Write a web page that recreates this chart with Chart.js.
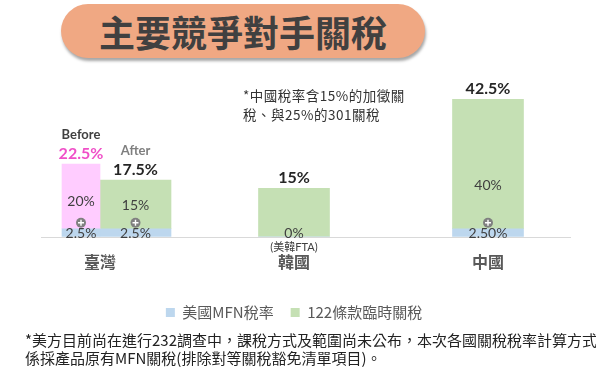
<!DOCTYPE html>
<html>
<head>
<meta charset="utf-8">
<script src="https://cdn.jsdelivr.net/npm/chart.js@4.4.1/dist/chart.umd.min.js"></script>
<style>
  body { margin: 0; width: 596px; height: 378px; background: #fff; position: relative; overflow: hidden;
         font-family: 'Noto Sans CJK TC', sans-serif; }
  #title { position: absolute; left: 61px; top: 4px; width: 364px; height: 54px; border-radius: 27px;
           background: #F0A883; box-shadow: 1px 3px 3px rgba(0,0,0,.35); color: #404040;
           font-size: 36px; font-weight: 700; text-align: center; line-height: 54px; }
  #wrap { position: absolute; left: 0; top: 60px; width: 596px; height: 270px; }
  #note { position: absolute; left: 243px; top: 86px; font-size: 13.5px; line-height: 19px;
          color: #333; letter-spacing: 0.5px; white-space: nowrap; }
  #foot { position: absolute; left: 25px; top: 331px; font-size: 15px; line-height: 18px;
          color: #222; white-space: nowrap; }
</style>
</head>
<body>
<div id="title">主要競爭對手關稅</div>
<div id="wrap"><canvas id="chart"></canvas></div>
<div id="note">*中國稅率含15%的加徵關<br>稅、與25%的301關稅</div>
<div id="foot">*美方目前尚在進行232調查中，課稅方式及範圍尚未公布，本次各國關稅稅率計算方式<br>係採產品原有MFN關稅(排除對等關稅豁免清單項目)。</div>
<script>
const categories = ['臺灣', '韓國', '中國'];
const seriesNames = ['美國MFN稅率', '122條款臨時關稅'];

// Taiwan before the change (MFN + 232 tariff)
const beforeMfn = [2.5, null, null];
const before232 = [20, null, null];
// current rates
const mfnRate = [2.5, 0, 2.5];
const tempTariff = [15, 15, 40];

const mfnLabels = ['2.5%', '0%', '2.50%'];
const mfnNotes = ['', '(美韓FTA)', ''];
const beforeHeader = ['Before', '', ''];
const afterHeader = ['After', '', ''];

const blue = '#BDD7EE';
const green = '#C5E0B4';
const pink = '#FFCCFF';
const numFont = "Lato, 'Noto Sans CJK TC', sans-serif";

// value labels, headers and the "+" marks
const barText = {
  id: 'barText',
  beforeDatasetsDraw(chart) {
    const ctx = chart.ctx;
    const a = chart.chartArea;
    const y = Math.round(chart.scales.y.getPixelForValue(0)) + 0.5;
    ctx.save();
    ctx.strokeStyle = '#D9D9D9';
    ctx.lineWidth = 1;
    ctx.beginPath();
    ctx.moveTo(a.left + 38, y);
    ctx.lineTo(a.right - 14, y);
    ctx.stroke();
    ctx.restore();
  },
  afterDatasetsDraw(chart) {
    const ctx = chart.ctx;
    const y0 = chart.scales.y.getPixelForValue(0);
    const pairs = [
      { low: 0, high: 1, head: beforeHeader, headColor: '#404040', totalColor: '#F050C8' },
      { low: 2, high: 3, head: afterHeader, headColor: '#7F7F7F', totalColor: '#262626' }
    ];
    ctx.save();
    ctx.textAlign = 'center';
    ctx.textBaseline = 'middle';
    pairs.forEach(p => {
      const lowSet = chart.data.datasets[p.low];
      const highSet = chart.data.datasets[p.high];
      const lowBars = chart.getDatasetMeta(p.low).data;
      const highBars = chart.getDatasetMeta(p.high).data;
      categories.forEach((c, i) => {
        if (highSet.data[i] == null) return;
        const lo = lowBars[i], hi = highBars[i];
        const x = hi.x;
        const total = lowSet.data[i] + highSet.data[i];
        // total on top
        ctx.fillStyle = p.totalColor;
        ctx.font = 'bold 16px ' + numFont;
        ctx.fillText(total + '%', x, hi.y - 10);
        if (p.head[i]) {
          ctx.fillStyle = p.headColor;
          ctx.font = 'bold 13px ' + numFont;
          ctx.fillText(p.head[i], x, hi.y - 29);
        }
        // bottom (MFN) label
        ctx.fillStyle = '#404040';
        ctx.font = '14px ' + numFont;
        ctx.fillText(mfnLabels[i], x, y0 - 3);
        if (mfnNotes[i]) {
          ctx.font = '11px ' + numFont;
          ctx.fillText(mfnNotes[i], x, y0 + 11);
        }
        if (lowSet.data[i] > 0) {
          const mid = (hi.y + lo.y) / 2;
          ctx.font = '14px ' + numFont;
          ctx.fillText(highSet.data[i] + '%', x, (mid + lo.y - 22) / 2);
          // plus sign
          const cy = lo.y - 6;
          ctx.fillStyle = '#808080';
          ctx.beginPath();
          ctx.arc(x, cy, 5, 0, Math.PI * 2);
          ctx.fill();
          ctx.strokeStyle = '#fff';
          ctx.lineWidth = 1.4;
          ctx.beginPath();
          ctx.moveTo(x - 3, cy); ctx.lineTo(x + 3, cy);
          ctx.moveTo(x, cy - 3); ctx.lineTo(x, cy + 3);
          ctx.stroke();
          ctx.fillStyle = '#404040';
        }
      });
    });
    ctx.restore();
  }
};

new Chart(document.getElementById('chart'), {
  type: 'bar',
  data: {
    labels: categories,
    datasets: [
      { label: seriesNames[0], data: beforeMfn, stack: 'before', backgroundColor: blue, barThickness: 38 },
      { label: 'Before', data: before232, stack: 'before', backgroundColor: pink, barThickness: 38 },
      { label: seriesNames[0], data: mfnRate, stack: 'now', backgroundColor: blue, barThickness: 71 },
      { label: seriesNames[1], data: tempTariff, stack: 'now', backgroundColor: green, barThickness: 71 }
    ]
  },
  options: {
    responsive: true,
    maintainAspectRatio: false,
    animation: false,
    datasets: { bar: { skipNull: true, borderWidth: 0 } },
    layout: { padding: { left: 3, right: 11, top: 28, bottom: 0 } },
    plugins: {
      tooltip: { enabled: false },
      legend: {
        position: 'bottom',
        labels: {
          filter: item => item.datasetIndex >= 2,
          boxWidth: 9,
          boxHeight: 9,
          padding: 17,
          color: '#595959',
          font: { size: 15, family: "'Noto Sans CJK TC', sans-serif" }
        }
      }
    },
    scales: {
      x: {
        stacked: true,
        grid: { display: false, drawTicks: false },
        border: { display: false },
        ticks: {
          padding: 16,
          color: '#595959',
          font: { size: 16, weight: 'bold', family: "'Noto Sans CJK TC', sans-serif" }
        }
      },
      y: { stacked: true, display: false, min: 0, max: 46 }
    }
  },
  plugins: [barText]
});
</script>
</body>
</html>
